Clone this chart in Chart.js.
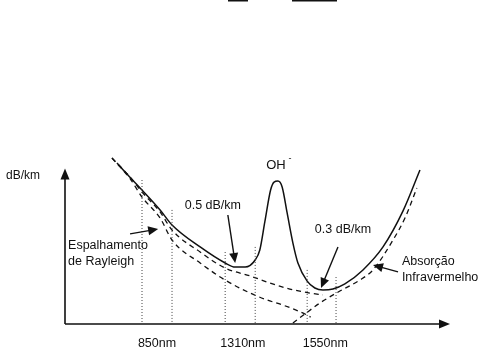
<!DOCTYPE html>
<html>
<head>
<meta charset="utf-8">
<script src="https://cdn.jsdelivr.net/npm/chart.js@4/dist/chart.umd.min.js"></script>
<style>
  html, body { margin: 0; padding: 0; background: #fff; }
  #wrap { width: 497px; height: 363px; }
</style>
</head>
<body>
<div id="wrap"><canvas id="c"></canvas></div>
<script>
// ── schematic data (arbitrary units: x 0–100, attenuation 0–100) ──
const totalX = [13.5, 15.6, 20.0, 24.7, 27.8, 35.1, 41.6, 44.2, 46.8, 49.4, 50.6, 51.9, 53.4, 54.3, 55.3, 56.4, 57.7, 59.2, 60.5, 62.9, 64.9, 67.0, 69.6, 72.7, 77.4, 82.6, 87.8, 92.2];
const totalY = [95.3, 89.9, 79.3, 67.5, 58.6, 45.6, 36.1, 33.7, 33.7, 37.9, 43.8, 60.4, 79.3, 84.0, 84.6, 81.1, 65.7, 47.9, 36.1, 25.4, 21.3, 20.1, 20.7, 23.7, 32.0, 45.6, 66.9, 91.1];

const baseX = [12.2, 16.9, 20.0, 24.7, 27.8, 35.1, 41.6, 48.1, 53.2, 58.4, 63.6, 67.0];
const baseY = [98.2, 87.0, 78.1, 66.3, 55.6, 42.6, 33.1, 28.4, 24.3, 20.7, 18.3, 17.2];

const rayleighX = [12.2, 16.9, 20.0, 24.7, 27.8, 35.1, 41.6, 48.1, 52.5, 56.6, 62.9, 63.8];
const rayleighY = [98.2, 86.0, 75.1, 62.7, 49.7, 36.1, 26.0, 18.3, 14.2, 11.2, 5.3, 4.1];

const infraX = [59.2, 62.3, 66.2, 71.4, 76.6, 80.0, 85.2, 88.3, 91.4];
const infraY = [0.6, 5.9, 12.4, 19.5, 26.0, 32.0, 49.7, 62.7, 80.5];

const windowX = [20.0, 27.8, 41.6, 49.4, 62.9, 70.4];
const windowTop = [85.2, 67.5, 42.6, 45.6, 32.0, 27.8];

const tickPos = [23.9, 46.2, 67.6];
const tickLabels = ['850nm', '1310nm', '1550nm'];

// text labels and pointer arrows, in data units
const notes = [
  { text: '0.5 dB/km', x: 38.4, y: 69.8, align: 'center' },
  { text: '0.3 dB/km', x: 72.2, y: 55.6, align: 'center' },
  { text: 'Espalhamento', x: 0.8, y: 46.7, align: 'left' },
  { text: 'de Rayleigh', x: 0.8, y: 36.7, align: 'left' },
  { text: 'Absorção', x: 87.5, y: 36.7, align: 'left' },
  { text: 'Infravermelho', x: 87.5, y: 27.2, align: 'left' },
];
const pointers = [
  { from: [42.3, 64.5], to: [44.2, 36.1] },
  { from: [70.9, 45.6], to: [66.5, 21.3] },
  { from: [16.9, 53.3], to: [24.2, 56.2] },
  { from: [86.5, 30.8], to: [80.0, 34.9] },
];

const pts = (xs, ys) => xs.map((x, i) => ({ x, y: ys[i] }));
const FONT = "'Liberation Sans', Arial, sans-serif";
const INK = '#111';

function arrowHead(ctx, x1, y1, x2, y2, len, half) {
  const a = Math.atan2(y2 - y1, x2 - x1);
  ctx.beginPath();
  ctx.moveTo(x2, y2);
  ctx.lineTo(x2 - len * Math.cos(a) + half * Math.sin(a), y2 - len * Math.sin(a) - half * Math.cos(a));
  ctx.lineTo(x2 - len * Math.cos(a) - half * Math.sin(a), y2 - len * Math.sin(a) + half * Math.cos(a));
  ctx.closePath();
  ctx.fill();
}

const decorations = {
  id: 'decorations',
  afterDatasetsDraw(chart) {
    const { ctx, scales: { x, y } } = chart;
    const left = x.getPixelForValue(0), bottom = y.getPixelForValue(0);
    ctx.save();
    ctx.strokeStyle = INK;
    ctx.fillStyle = INK;

    // axes with arrowheads
    ctx.lineWidth = 1.6;
    const xEnd = chart.chartArea.right;
    const yEnd = y.getPixelForValue(92);
    ctx.beginPath();
    ctx.moveTo(left, bottom); ctx.lineTo(xEnd - 6, bottom);
    ctx.moveTo(left, bottom); ctx.lineTo(left, yEnd + 6);
    ctx.stroke();
    arrowHead(ctx, left, bottom, xEnd, bottom, 11, 4.5);
    arrowHead(ctx, left, bottom, left, yEnd, 11, 4.5);

    // pointer arrows
    ctx.lineWidth = 1.4;
    pointers.forEach(p => {
      const x1 = x.getPixelForValue(p.from[0]), y1 = y.getPixelForValue(p.from[1]);
      const x2 = x.getPixelForValue(p.to[0]), y2 = y.getPixelForValue(p.to[1]);
      const a = Math.atan2(y2 - y1, x2 - x1);
      ctx.beginPath();
      ctx.moveTo(x1, y1);
      ctx.lineTo(x2 - 8 * Math.cos(a), y2 - 8 * Math.sin(a));
      ctx.stroke();
      arrowHead(ctx, x1, y1, x2, y2, 10, 4.5);
    });

    // text notes
    ctx.font = '12.5px ' + FONT;
    ctx.textBaseline = 'middle';
    notes.forEach(n => {
      ctx.textAlign = n.align;
      ctx.fillText(n.text, x.getPixelForValue(n.x), y.getPixelForValue(n.y));
    });

    // OH- label
    const ohX = x.getPixelForValue(54.8), ohY = y.getPixelForValue(94.1);
    ctx.font = '13px ' + FONT;
    ctx.textAlign = 'center';
    ctx.fillText('OH', ohX, ohY);
    ctx.font = '9px ' + FONT;
    ctx.fillText('-', ohX + 14, ohY - 6);

    // axis unit
    ctx.font = '12px ' + FONT;
    ctx.textAlign = 'left';
    ctx.fillText('dB/km', 6, y.getPixelForValue(88));

    // stray rules at the very top of the scan
    ctx.fillRect(228, 0, 20, 1.5);
    ctx.fillRect(292, 0, 45, 1.5);
    ctx.restore();
  }
};

const dotted = windowX.map((wx, i) => ({
  data: [{ x: wx, y: windowTop[i] }, { x: wx, y: 0 }],
  borderColor: '#444',
  borderWidth: 1,
  borderDash: [1, 2],
  pointRadius: 0,
  clip: false,
}));

const curve = (data, dash, width) => ({
  data,
  borderColor: INK,
  borderWidth: width,
  borderDash: dash,
  pointRadius: 0,
  cubicInterpolationMode: 'monotone',
  fill: false,
  clip: false,
});

new Chart(document.getElementById('c'), {
  type: 'line',
  data: {
    datasets: [
      ...dotted,
      curve(pts(rayleighX, rayleighY), [5, 4], 1.3),
      curve(pts(baseX, baseY), [5, 4], 1.3),
      curve(pts(infraX, infraY), [5, 4], 1.3),
      curve(pts(totalX, totalY), [], 1.5),
    ],
  },
  options: {
    responsive: true,
    maintainAspectRatio: false,
    animation: false,
    layout: { padding: { left: 65, right: 47, top: 155, bottom: 0 } },
    plugins: { legend: { display: false }, tooltip: { enabled: false } },
    scales: {
      x: {
        type: 'linear',
        min: 0,
        max: 100,
        grid: { display: false, drawTicks: false },
        border: { display: false },
        afterBuildTicks: s => { s.ticks = tickPos.map(v => ({ value: v })); },
        ticks: {
          autoSkip: false,
          maxRotation: 0,
          padding: 12,
          color: INK,
          font: { family: FONT, size: 12.5 },
          callback: (v, i) => tickLabels[i],
        },
      },
      y: { type: 'linear', min: 0, max: 100, display: false },
    },
  },
  plugins: [decorations],
});
</script>
</body>
</html>
